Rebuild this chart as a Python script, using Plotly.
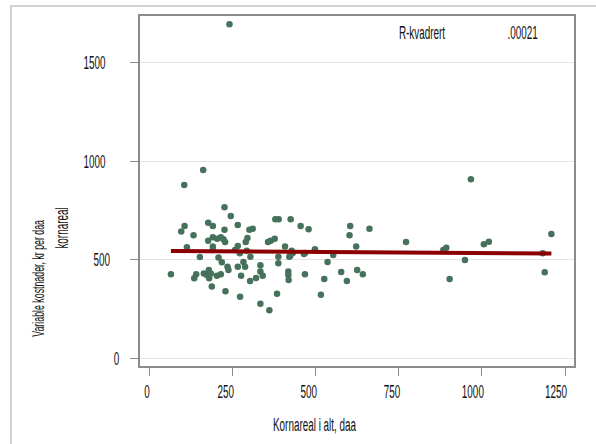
import plotly.graph_objects as go

# Kornareal (daa) and variable costs per daa kornareal, one pair per farm
kornareal = [
    162, 105, 226, 245, 177, 191, 266, 106, 96, 133,
    226, 301, 311, 379, 389, 425, 177, 191, 204, 215,
    223, 228, 266, 290, 295, 357, 365, 377, 408, 113,
    191, 191, 152, 208, 218, 258, 272, 293, 304, 283,
    288, 235, 238, 266, 388, 388, 421, 334, 65, 135,
    141, 164, 173, 179, 180, 185, 203, 215, 188, 229,
    276, 303, 321, 334, 341, 273, 334, 361, 384, 418,
    418, 419, 455, 479, 604, 602, 662, 772, 622, 428,
    432, 424, 465, 469, 498, 553, 536, 468, 526, 577,
    594, 625, 642, 516, 967, 884, 893, 1006, 1021, 949,
    903, 1183, 1209, 1189, 241,
]
kostnader = [
    956, 880, 766, 722, 688, 671, 676, 671, 643, 624,
    653, 653, 658, 706, 706, 706, 597, 614, 607, 614,
    604, 590, 570, 590, 611, 590, 597, 607, 567, 563,
    567, 550, 514, 511, 487, 550, 533, 546, 516, 489,
    465, 465, 448, 465, 516, 482, 516, 472, 426, 406,
    426, 431, 423, 448, 406, 431, 419, 426, 364, 340,
    419, 392, 408, 440, 419, 313, 277, 244, 328, 440,
    423, 397, 672, 655, 672, 624, 658, 590, 567, 546,
    535, 521, 529, 535, 553, 524, 489, 426, 402, 438,
    392, 448, 426, 323, 909, 550, 561, 579, 592, 499,
    402, 533, 631, 437, 1695,
]

# Linear fit coefficients and its R-squared
fit_intercept = 545.5
fit_slope = -0.0117
r_squared = ".00021"

x_ticks = [0, 250, 500, 750, 1000, 1250]
y_ticks = [0, 500, 1000, 1500]

FONT = "Liberation Sans, Arial, sans-serif"

fit_x = [min(kornareal), max(kornareal)]
fit_y = [fit_intercept + fit_slope * v for v in fit_x]

fig = go.Figure()
fig.add_trace(go.Scatter(
    x=kornareal, y=kostnader, mode="markers",
    marker=dict(size=6.5, color="#46715b", line=dict(width=0)),
    showlegend=False, hoverinfo="x+y",
))
fig.add_trace(go.Scatter(
    x=fit_x, y=fit_y, mode="lines",
    line=dict(color="#8b0000", width=4),
    showlegend=False, hoverinfo="skip",
))

fig.update_layout(
    width=596, height=444,
    margin=dict(l=140, r=22, t=16, b=78),
    paper_bgcolor="white", plot_bgcolor="white",
    font=dict(family=FONT, size=18, color="#111111"),
    xaxis=dict(
        range=[-28, 1277], tickvals=x_ticks, ticktext=[str(v) for v in x_ticks],
        ticks="outside", ticklen=8, tickwidth=1.2, tickcolor="#8c8c8c",
        showgrid=False, zeroline=False,
        showline=True, mirror=True, linecolor="#8c8c8c", linewidth=1.5,
        ticklabelstandoff=1,
    ),
    yaxis=dict(
        range=[-39, 1737], tickvals=y_ticks, ticktext=[str(v) for v in y_ticks],
        ticks="outside", ticklen=8, tickwidth=1.2, tickcolor="#8c8c8c",
        showgrid=True, gridcolor="#e4e4e4", gridwidth=1, zeroline=False,
        showline=True, mirror=True, linecolor="#8c8c8c", linewidth=1.5,
        ticklabelstandoff=3,
    ),
    shapes=[dict(
        type="rect", xref="paper", yref="paper",
        x0=-129 / 434, x1=1.2, y0=-0.5, y1=1 + 10 / 350,
        line=dict(color="#c4c4c4", width=1.5), fillcolor="rgba(0,0,0,0)", layer="below",
    )],
    annotations=[
        dict(text="Kornareal i alt, daa", xref="paper", yref="paper",
             x=(314.5 - 140) / 434, y=-(425 - 366) / 350, showarrow=False,
             xanchor="center", yanchor="middle"),
        dict(text="Variable kostnader, kr per daa", xref="paper", yref="paper",
             x=(37.5 - 140) / 434, y=(366 - 279) / 350, showarrow=False, textangle=-90,
             xanchor="center", yanchor="middle", font=dict(size=16)),
        dict(text="kornareal", xref="paper", yref="paper",
             x=(61.5 - 140) / 434, y=(366 - 228) / 350, showarrow=False, textangle=-90,
             xanchor="center", yanchor="middle"),
        dict(text="R-kvadrert", xref="paper", yref="paper",
             x=(421.5 - 140) / 434, y=(366 - 33) / 350, showarrow=False,
             xanchor="center", yanchor="middle"),
        dict(text=r_squared, xref="paper", yref="paper",
             x=(522.5 - 140) / 434, y=(366 - 33) / 350, showarrow=False,
             xanchor="center", yanchor="middle"),
    ],
)

# Narrow all text horizontally (condensed lettering). Tick labels keep the
# start point of their full-width layout; other text stays centred.
condense_js = """
var gd = document.getElementById('{plot_id}');
var F = 0.55;
gd.querySelectorAll('text').forEach(function (t) {
  if (t.getAttribute('data-sq')) return;
  var L = t.getComputedTextLength();
  if (!L) return;
  var anchor = t.getAttribute('text-anchor') || 'start';
  var x = parseFloat(t.getAttribute('x') || '0');
  var isTick = t.closest('.xtick, .ytick') !== null;
  var shift = 0;
  if (anchor === 'middle') shift = isTick ? L / 2 : F * L / 2;
  else if (anchor === 'end') shift = isTick ? L : F * L;
  t.setAttribute('x', x - shift);
  t.setAttribute('text-anchor', 'start');
  t.setAttribute('textLength', F * L);
  t.setAttribute('lengthAdjust', 'spacingAndGlyphs');
  t.setAttribute('data-sq', '1');
});
"""

fig.write_html("out.html", post_script=condense_js)
